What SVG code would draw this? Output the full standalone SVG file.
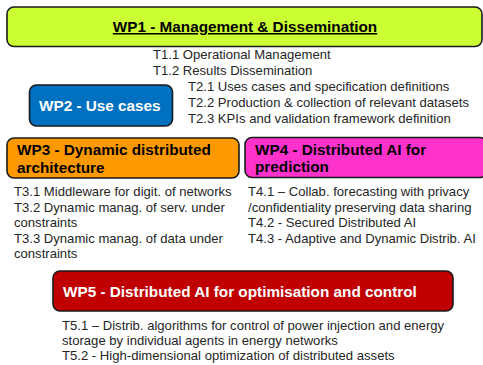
<svg xmlns="http://www.w3.org/2000/svg" width="483" height="365" viewBox="0 0 483 365">
<style>
.box{stroke:#1a1a1a;stroke-width:1.6}
.h{font-family:"Liberation Sans",Arial,sans-serif;font-weight:bold;font-size:15.3px}
.t{font-family:"Liberation Sans",Arial,sans-serif;font-size:13.1px;fill:#262626}
</style>
<rect width="483" height="365" fill="#ffffff"/>
<g id="wp1">
<rect class="box" x="7" y="7" width="475" height="39.5" rx="7" fill="#CCFF33"/>
<text class="h" x="245" y="32" text-anchor="middle" fill="#000" text-decoration="underline">WP1 - Management &amp; Dissemination</text>
<text class="t" x="153" y="58.5">T1.1 Operational Management</text>
<text class="t" x="153" y="74.5">T1.2 Results Dissemination</text>
</g>
<g id="wp2">
<rect class="box" x="29.5" y="85" width="143" height="41" rx="7" fill="#0070C0"/>
<text class="h" x="39" y="111" fill="#fff">WP2 - Use cases</text>
<text class="t" x="188" y="91">T2.1 Uses cases and specification definitions</text>
<text class="t" x="188" y="107">T2.2 Production &amp; collection of relevant datasets</text>
<text class="t" x="188" y="123">T2.3 KPIs and validation framework definition</text>
</g>
<g id="wp3">
<rect class="box" x="7" y="138" width="232" height="40" rx="7" fill="#FF9900"/>
<text class="h" x="17" y="155" fill="#000">WP3 - Dynamic distributed</text>
<text class="h" x="17" y="172.5" fill="#000">architecture</text>
<text class="t" x="14" y="196">T3.1 Middleware for digit. of networks</text>
<text class="t" x="14" y="211.5">T3.2 Dynamic manag. of serv. under</text>
<text class="t" x="14" y="227">constraints</text>
<text class="t" x="14" y="242.5">T3.3 Dynamic manag. of data under</text>
<text class="t" x="14" y="258">constraints</text>
</g>
<g id="wp4">
<rect class="box" x="245" y="137.5" width="242" height="40" rx="7" fill="#FF33CC"/>
<text class="h" x="255" y="154.5" fill="#000">WP4 - Distributed AI for</text>
<text class="h" x="255" y="172" fill="#000">prediction</text>
<text class="t" x="248" y="196">T4.1 – Collab. forecasting with privacy</text>
<text class="t" x="248" y="211.5">/confidentiality preserving data sharing</text>
<text class="t" x="248" y="227">T4.2 - Secured Distributed AI</text>
<text class="t" x="248" y="242.5">T4.3 - Adaptive and Dynamic Distrib. AI</text>
</g>
<g id="wp5">
<rect class="box" x="53" y="271" width="400" height="40" rx="7" fill="#C00000"/>
<text class="h" x="63" y="297" fill="#fff">WP5 - Distributed AI for optimisation and control</text>
<text class="t" x="62" y="330">T5.1 – Distrib. algorithms for control of power injection and energy</text>
<text class="t" x="62" y="345">storage by individual agents in energy networks</text>
<text class="t" x="62" y="360">T5.2 - High-dimensional optimization of distributed assets</text>
</g>
<g id="connectors"/>
</svg>
